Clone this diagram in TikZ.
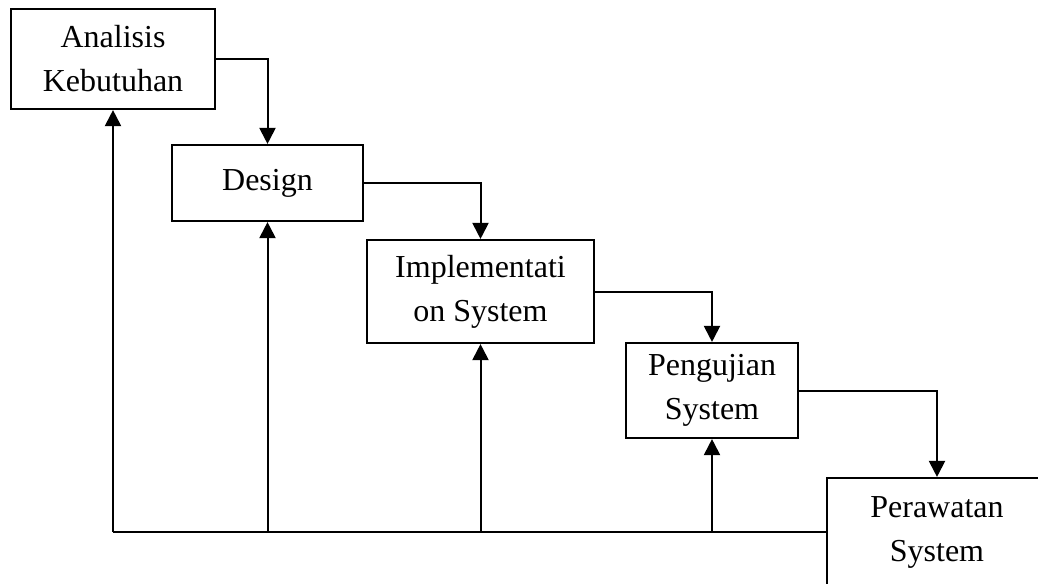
\documentclass[tikz,border=0pt]{standalone}
\usepackage{fontspec}
\setmainfont{Liberation Serif}
\usepackage{tikz}
\usetikzlibrary{arrows.meta}
\tikzstyle{box}=[rectangle, draw, line width=1.6pt, align=center, inner sep=2pt, font=\fontsize{24}{33}\selectfont]
\tikzstyle{flow}=[line width=1.5pt, -{Triangle[length=12pt,width=12pt]}]
\tikzstyle{back}=[line width=1.5pt]
\newcommand{\stage}{\node[box]}

\begin{document}
\begin{tikzpicture}[x=0.75pt, y=-0.75pt]
            \clip (0,0) rectangle (1038,583);
            \stage (anal) at (113,59) [minimum width=153pt, minimum height=75pt]{Analisis\\Kebutuhan};
            \stage (design) at (267.5,183) [minimum width=143.25pt, minimum height=57pt]{Design};
            \stage (impl) at (480.5,291.5) [minimum width=170.25pt, minimum height=77.25pt]{Implementati\\on System};
            \stage (uji) at (712,390.5) [minimum width=129pt, minimum height=71.25pt]{Pengujian\\System};
            \stage (rawat) at (937,532) [minimum width=165pt, minimum height=81pt]{Perawatan\\System};
            \coordinate (fb) at (rawat.west -| anal.south);
            \draw[flow] (anal.east) -| (design.north);
            \draw[flow] (design.east) -| (impl.north);
            \draw[flow] (impl.east) -| (uji.north);
            \draw[flow] (uji.east) -| (rawat.north);
            \draw[back] (rawat.west) -- (fb);
            \draw[flow] (fb) -- (anal.south);
            \draw[flow] (fb -| design.south) -- (design.south);
            \draw[flow] (fb -| impl.south) -- (impl.south);
            \draw[flow] (fb -| uji.south) -- (uji.south);
        \end{tikzpicture}
\end{document}
